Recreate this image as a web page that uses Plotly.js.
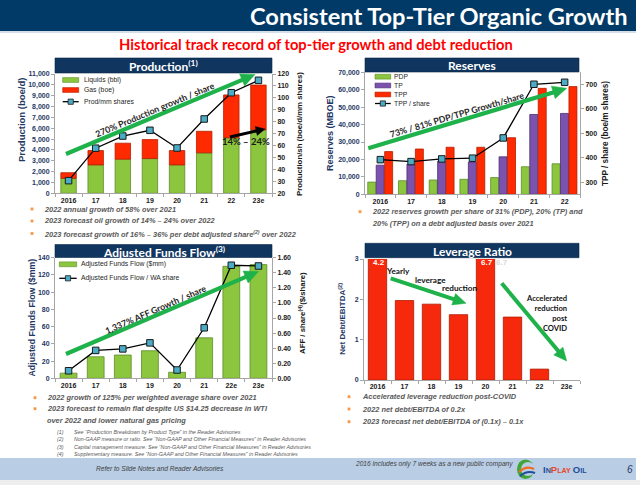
<!DOCTYPE html>
<html><head><meta charset="utf-8">
<script src="https://cdn.plot.ly/plotly-3.0.1.min.js"></script>
<style>html,body{margin:0;padding:0;background:#fff}#chart{width:640px;height:485px}</style>
</head><body><div id="chart"></div>
<script>
// ---------- DATA ----------
// Production
const prodYears = ["2016","17","18","19","20","21","22","23e"];
const prodLiquids = [1380,2620,3150,3200,2620,3730,5120,5850];
const prodGas = [520,1320,1470,1750,1320,1990,3950,4130];
const prodPerShare = [30.6,57.8,68,72.8,58,82.3,104.3,114.7];
// Reserves
const resYears = ["2016","17","18","19","20","21","22"];
const resPDP = [7000,7800,8200,8600,9600,15800,17500];
const resTP = [16700,17200,19000,18500,21500,45800,46400];
const resTPP = [24500,26000,27000,27000,32500,60800,61800];
const resTPPPerShare = [392,384,395,398,481,701,709];
// Adjusted funds flow
const affYears = ["2016","17","18","19","20","21","22e","23e"];
const affValues = [6,25,27,32,7,47,130,132];
const affPerShare = [0.10,0.37,0.39,0.47,0.11,0.67,1.50,1.49];
// Leverage
const levYears = ["2016","17","18","19","20","21","22","23e"];
const levValues = [4.2,1.97,1.88,1.62,6.7,1.56,0.27,null];

// ---------- HELPERS ----------
const W=640,H=485;
const fx=v=>v/W, fy=v=>1-v/H;
const navy='#1F3864', green='#8CC63F', greenLine='#5E8C2A', red='#FF2A00', redLine='#B41E00',
      purple='#7B52AE', purpleLine='#4B2F73', markerBlue='#4BACC6', arrowGreen='#1FB24A';
const SANS='Liberation Sans, Arial, sans-serif', CAL='Lato, Liberation Sans, sans-serif';
const tickFont={family:SANS,size:7,color:navy,weight:'bold'};

function xAx(l,r,anchor,cats){
  return {domain:[fx(l),fx(r)],anchor,type:'category',categoryorder:'array',categoryarray:cats,
    range:[-0.5,cats.length-0.5],showline:true,linecolor:'#A6A6A6',linewidth:1,ticks:'outside',ticklen:3,
    tickcolor:'#A6A6A6',tickson:'boundaries',showgrid:false,zeroline:false,
    tickfont:{family:SANS,size:7,color:'#1a1a1a',weight:'bold'},fixedrange:true};
}
function yAx(top,bot,anchor,range,dtick,fmt,side,overlay,color){
  const a={range,dtick,tickformat:fmt,showline:true,linecolor:'#A6A6A6',linewidth:1,ticks:'outside',ticklen:3,
    tickcolor:'#A6A6A6',showgrid:false,zeroline:false,anchor,side,
    tickfont:Object.assign({},tickFont,{color:color||navy}),fixedrange:true};
  if(overlay){a.overlaying=overlay;} else {a.domain=[fy(bot),fy(top)];}
  return a;
}
const ann=[], shp=[];
function T(text,x,y,o){ann.push(Object.assign({text,xref:'paper',yref:'paper',x:fx(x),y:fy(y),showarrow:false,
  xanchor:'center',yanchor:'middle',font:{family:SANS,size:8,color:'#000'}},o||{}));}
// arrow drawn as shapes: shaft + triangular head
function A(x0,y0,x1,y1,color,w,hl,hw){
  const dx=x1-x0, dy=y1-y0, len=Math.hypot(dx,dy), ux=dx/len, uy=dy/len;
  const bx=x1-ux*hl, by=y1-uy*hl;
  shp.push({type:'line',xref:'paper',yref:'paper',x0:fx(x0),y0:fy(y0),x1:fx(bx+ux*1.5),y1:fy(by+uy*1.5),line:{color,width:w},layer:'above'});
  const p1=[bx-uy*hw/2,by+ux*hw/2], p2=[bx+uy*hw/2,by-ux*hw/2];
  shp.push({type:'path',xref:'paper',yref:'paper',layer:'above',fillcolor:color,line:{color,width:0.5},
    path:`M${fx(x1)},${fy(y1)} L${fx(p1[0])},${fy(p1[1])} L${fx(p2[0])},${fy(p2[1])} Z`});
}
function R(x0,y0,x1,y1,fill,line,lw,layer){shp.push({type:'rect',xref:'paper',yref:'paper',x0:fx(x0),x1:fx(x1),
  y0:fy(y0),y1:fy(y1),fillcolor:fill,line:{color:line||fill,width:lw===undefined?0:lw},layer:layer||'above'});}
function L(x0,y0,x1,y1,color,w){shp.push({type:'line',xref:'paper',yref:'paper',x0:fx(x0),x1:fx(x1),y0:fy(y0),y1:fy(y1),line:{color,width:w}});}
function bullet(bx,tx,y,text){R(bx-1.4,y-1.4,bx+1.4,y+1.4,'#F79646');
  T('<i><b>'+text+'</b></i>',tx,y,{xanchor:'left',font:{family:SANS,size:7.4,color:'#595959'}});}
function header(x0,y0,x1,y1,text){R(x0,y0,x1,y1,'#10355F','#0A2747',0.6);
  T('<b>'+text+'</b>',(x0+x1)/2,(y0+y1)/2+0.5,{font:{family:CAL,size:12,color:'#fff'}});}
function legBox(x0,x1,y,fill,line,label,tx){R(x0,y-2.4,x1,y+2.4,fill,line,0.6);
  T(label,tx,y,{xanchor:'left',font:{family:SANS,size:6.8,color:'#262626'}});}
function legLine(x0,x1,y,label,tx){L(x0,y,x1,y,'#000',1.3);const c=(x0+x1)/2;R(c-2.6,y-2.6,c+2.6,y+2.6,markerBlue,'#1a1a1a',0.8);
  T(label,tx,y,{xanchor:'left',font:{family:SANS,size:6.8,color:'#262626'}});}

// ---------- PAGE DECOR ----------
R(0,0,636,31,'#013A66',null,0,'below');
L(0,32,636,32,'#A9BDD3',1.2);
T('<b>Consistent Top-Tier Organic Growth</b>',630,16,{xanchor:'right',font:{family:CAL,size:23.6,color:'#fff'}});
T('<b>Historical track record of top-tier growth and debt reduction</b>',316,43.5,{font:{family:CAL,size:14.7,color:'#FF0000'}});
R(0,458,636,480,'#B9CDE5',null,0,'below');
R(0,480,640,485,'#EEEEEE',null,0,'below');
T('<i>Refer to Slide Notes and Reader Advisories</i>',160,468.5,{font:{family:SANS,size:6.6,color:'#404040'}});
T('<i>2016 includes only 7 weeks as a new public company</i>',353,463.5,{xanchor:'left',font:{family:SANS,size:6.6,color:'#404040'}});
shp.push({type:'circle',xref:'paper',yref:'paper',x0:fx(517),x1:fx(534),y0:fy(459.5),y1:fy(479),fillcolor:'#3FA535',line:{width:0}});
shp.push({type:'circle',xref:'paper',yref:'paper',x0:fx(521),x1:fx(535),y0:fy(462),y1:fy(476),fillcolor:'#B9CDE5',line:{width:0}});
shp.push({type:'path',xref:'paper',yref:'paper',path:`M${fx(519)},${fy(472)} Q${fx(526)},${fy(465)} ${fx(534)},${fy(469)}`,line:{color:'#F26B21',width:2.2}});
shp.push({type:'path',xref:'paper',yref:'paper',path:`M${fx(520)},${fy(476)} Q${fx(527)},${fy(470)} ${fx(535)},${fy(473)}`,line:{color:'#1F4E9A',width:2.2}});
T("<b><span style='color:#1F4E9A;font-size:9.5px'>I</span><span style='color:#1F4E9A'>N</span><span style='color:#E8472A;font-size:9.5px'>P</span><span style='color:#E8472A'>LAY </span><span style='color:#1F4E9A;font-size:9.5px'>O</span><span style='color:#1F4E9A'>IL</span></b>",541,469.5,{xanchor:'left',font:{family:SANS,size:7.2,color:'#1F4E9A'}});
T('<i>6</i>',630,469,{font:{family:SANS,size:10,color:'#1F3864'}});

// ---------- PANEL: PRODUCTION ----------
header(55,58,272,73,'Production<sup>(1)</sup>');
T('<b>Production (boe/d)</b>',21,120,{textangle:-90,font:{family:SANS,size:9.5,color:navy}});
T('<b>Production/sh (boe/d/mm shares)</b>',299,134,{textangle:-90,font:{family:SANS,size:7.8,color:'#1a1a1a'}});
legBox(62.7,78.7,80,green,greenLine,'Liquids (bbl)',81.7);
legBox(62.7,78.7,90,red,redLine,'Gas (boe)',81.7);
legLine(62.7,78.7,101.7,'Prod/mm shares',81.7);
A(66,154,255,74.5,arrowGreen,4.2,14,13);
T('<b>270% Production growth / share</b>',155,110,{textangle:-22.7,font:{family:CAL,size:8.8,color:'#262626'}});
A(230,137,265,129,'#000',3,9,9);
T('<b>14% – 24%</b>',246,141.5,{font:{family:CAL,size:9.5,color:'#1a1a1a'}});
bullet(32,42,209,'2022 annual growth of 58% over 2021');
bullet(32,42,221,'2023 forecast oil growth of 14% – 24% over 2022');
bullet(32,42,233.5,'2023 forecast growth of 16% – 36% per debt adjusted share<sup>(2)</sup> over 2022');

// ---------- PANEL: RESERVES ----------
header(365,58,579,72,'Reserves');
T('<b>Reserves (MBOE)</b>',330,133,{textangle:-90,font:{family:SANS,size:9,color:navy}});
T('<b>TPP / share (boe/m shares)</b>',605,134,{textangle:-90,font:{family:SANS,size:8.2,color:'#1a1a1a'}});
legBox(375,390.7,76.7,green,greenLine,'PDP',392);
legBox(375,390.7,85.5,purple,purpleLine,'TP',392);
legBox(375,390.7,94.5,red,redLine,'TPP',392);
legLine(375,390.7,103.5,'TPP / share',392);
A(368.3,148.3,566.7,88.3,arrowGreen,4.2,14,13);
T('<b>73% / 81% PDP/TPP Growth/share</b>',457,114,{textangle:-16.5,font:{family:CAL,size:8.8,color:'#262626'}});
bullet(360,370,211.7,'2022 reserves growth per share of 31% (PDP), 20% (TP) and');
T('<i><b>20% (TPP) on a debt adjusted basis over 2021</b></i>',370,223.5,{xanchor:'left',font:{family:SANS,size:7.4,color:'#595959'}});

// ---------- PANEL: AFF ----------
header(55,244.5,272,257.5,'Adjusted Funds Flow<sup>(3)</sup>');
T('<b>Adjusted Funds Flow ($mm)</b>',31.5,318,{textangle:-90,font:{family:SANS,size:8.8,color:navy}});
T('<b>AFF / share<sup>(4)</sup>($/share)</b>',302,313,{textangle:-90,font:{family:SANS,size:7.8,color:'#1a1a1a'}});
legBox(59.3,76.7,264.3,green,greenLine,'Adjusted Funds Flow ($mm)',79.3);
legLine(59.3,76.7,278.3,'Adjusted Funds Flow / WA share',79.3);
A(66,354,258.5,271.5,arrowGreen,4.2,14,13);
T('<b>1,337% AFF Growth / share</b>',155,309,{textangle:-23.5,font:{family:CAL,size:8.8,color:'#262626'}});
bullet(35,45,397.7,'2022 growth of 125% per weighted average share over 2021');
bullet(35,45,408.7,'2023 forecast to remain flat despite US $14.25 decrease in WTI');
T('<i><b>over 2022 and lower natural gas pricing</b></i>',45,420.5,{xanchor:'left',font:{family:SANS,size:7.4,color:'#595959'}});
const notes=['See “Production Breakdown by Product Type” in the Reader Advisories',
 'Non-GAAP measure or ratio. See “Non-GAAP and Other Financial Measures” in Reader Advisories',
 'Capital management measure. See “Non-GAAP and Other Financial Measures” in Reader Advisories',
 'Supplementary measure. See “Non-GAAP and Other Financial Measures” in Reader Advisories'];
notes.forEach((n,i)=>{const y=431.7+i*7.4;
  T('<i>('+(i+1)+')</i>',55,y,{xanchor:'left',font:{family:SANS,size:5.3,color:'#595959'}});
  T('<i>'+n+'</i>',72,y,{xanchor:'left',font:{family:SANS,size:5.3,color:'#595959'}});});

// ---------- PANEL: LEVERAGE ----------
header(365,243.3,579,257.7,'Leverage Ratio');
T('<b>Net Debt/EBITDA<sup>(2)</sup></b>',341.7,319,{textangle:-90,font:{family:SANS,size:8,color:navy}});
T('<b>4.2</b>',379.3,262,{font:{family:SANS,size:8,color:'#fff'}});
T('<b>6.7</b>',486.7,262,{font:{family:SANS,size:8,color:'#fff'}});
T('<b>6.7</b>',502,262,{font:{family:SANS,size:8,color:'#D9D9D9'}});
A(390.7,278.3,466,303.3,arrowGreen,4,13,12);
A(501.7,283.3,566.7,361,arrowGreen,4,13,12);
T('<b>Yearly</b>',397.5,271,{font:{family:CAL,size:8.2,color:'#111'}});
T('<b>leverage</b>',430,279.5,{font:{family:CAL,size:8.2,color:'#111'}});
T('<b>reduction</b>',459.5,288,{font:{family:CAL,size:8.2,color:'#111'}});
T('<b>Accelerated<br>reduction<br>post<br>COVID</b>',569,313.3,{xanchor:'right',align:'right',font:{family:CAL,size:7.6,color:'#111'}});
bullet(349,360,396.7,'Accelerated leverage reduction post-COVID');
bullet(349,360,409,'2022 net debt/EBITDA of 0.2x');
bullet(349,360,421.7,'2023 forecast net debt/EBITDA of (0.1x) – 0.1x');

// ---------- TRACES ----------
const sq={symbol:'square',size:6.5,color:markerBlue,line:{color:'#1a1a1a',width:1}};
const traces=[
 {type:'bar',name:'Liquids (bbl)',x:prodYears,y:prodLiquids,xaxis:'x',yaxis:'y',width:0.57,
  marker:{color:green,line:{color:greenLine,width:0.8}}},
 {type:'bar',name:'Gas (boe)',x:prodYears,y:prodGas,base:prodLiquids,xaxis:'x',yaxis:'y',width:0.57,
  marker:{color:red,line:{color:redLine,width:0.8}}},
 {type:'scatter',mode:'lines+markers',name:'Prod/mm shares',x:prodYears,y:prodPerShare,xaxis:'x',yaxis:'y2',
  line:{color:'#000',width:1.3},marker:sq},
 {type:'bar',name:'PDP',x:resYears,y:resPDP,xaxis:'x2',yaxis:'y3',width:0.26,offset:-0.41,
  marker:{color:green,line:{color:greenLine,width:0.8}}},
 {type:'bar',name:'TP',x:resYears,y:resTP,xaxis:'x2',yaxis:'y3',width:0.26,offset:-0.135,
  marker:{color:purple,line:{color:purpleLine,width:0.8}}},
 {type:'bar',name:'TPP',x:resYears,y:resTPP,xaxis:'x2',yaxis:'y3',width:0.26,offset:0.14,
  marker:{color:red,line:{color:redLine,width:0.8}}},
 {type:'scatter',mode:'lines+markers',name:'TPP / share',x:resYears,y:resTPPPerShare,xaxis:'x2',yaxis:'y4',
  line:{color:'#000',width:1.3},marker:sq},
 {type:'bar',name:'Adjusted Funds Flow ($mm)',x:affYears,y:affValues,xaxis:'x3',yaxis:'y5',width:0.62,
  marker:{color:green,line:{color:greenLine,width:0.8}}},
 {type:'scatter',mode:'lines+markers',name:'Adjusted Funds Flow / WA share',x:affYears,y:affPerShare,xaxis:'x3',yaxis:'y6',
  line:{color:'#000',width:1.3},marker:sq},
 {type:'bar',name:'Net Debt/EBITDA',x:levYears,y:levValues,xaxis:'x4',yaxis:'y7',width:0.68,
  marker:{color:'#F7290C',line:{color:'#B01800',width:0.8}}}
];

const layout={width:640,height:485,margin:{l:0,r:0,t:0,b:0},paper_bgcolor:'#fff',plot_bgcolor:'rgba(0,0,0,0)',
 showlegend:false,barmode:'overlay',font:{family:SANS},
 xaxis:xAx(55,272,'y',prodYears),
 yaxis:yAx(74,193.3,'x',[0,11000],1000,',d','left'),
 yaxis2:yAx(74,193.3,'x',[20,120],10,'d','right','y','#1a1a1a'),
 xaxis2:xAx(365,580,'y3',resYears),
 yaxis3:yAx(72.3,194.3,'x2',[0,70000],10000,',d','left'),
 yaxis4:yAx(72.3,194.3,'x2',[250,750],100,'d','right','y3','#1a1a1a'),
 xaxis3:xAx(55,272,'y5',affYears),
 yaxis5:yAx(257.7,378.3,'x3',[0,140],20,'d','left'),
 yaxis6:yAx(257.7,378.3,'x3',[0,1.6],0.2,'.2f','right','y5','#1a1a1a'),
 xaxis4:xAx(364,580,'y7',levYears),
 yaxis7:yAx(259,380,'x4',[0,3],1,'d','left'),
 annotations:ann,shapes:shp};
Plotly.newPlot('chart',traces,layout,{displayModeBar:false,staticPlot:true});
</script></body></html>
